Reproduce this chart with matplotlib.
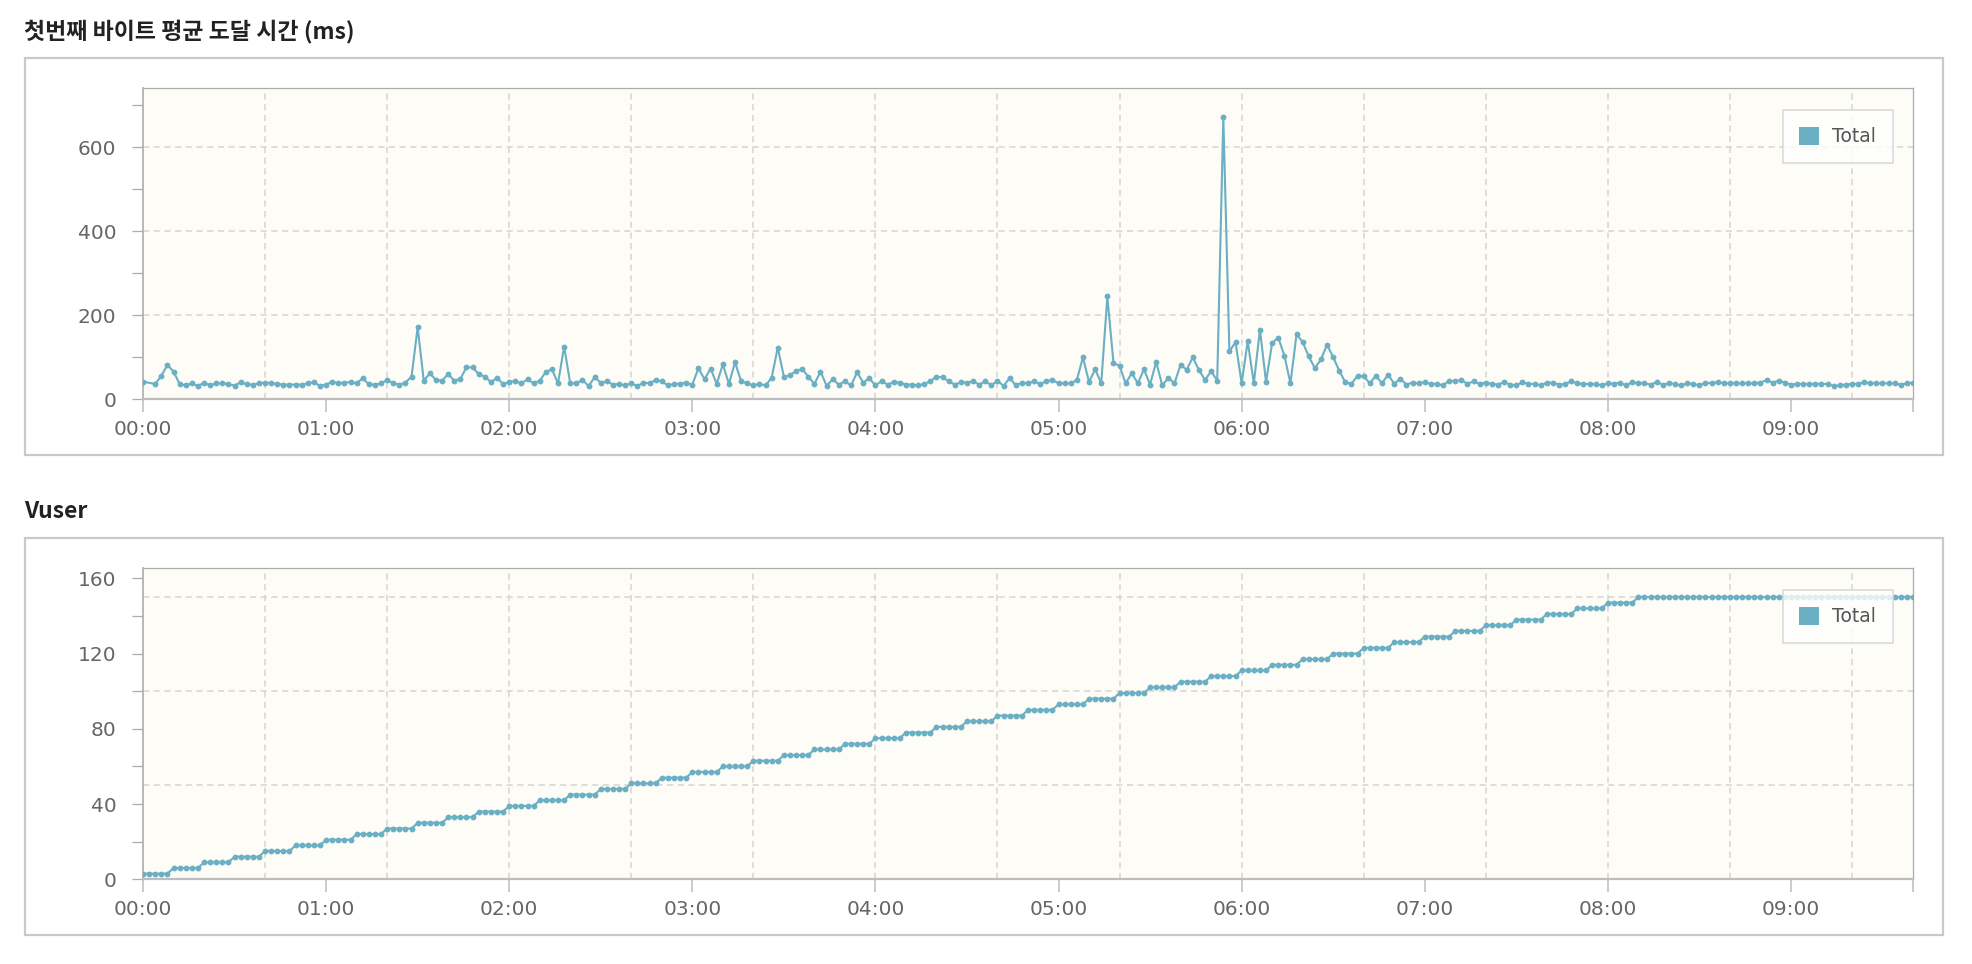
"""Recreate the two-panel load-test chart: first-byte time and Vuser count."""
import matplotlib
matplotlib.use("Agg")
import matplotlib.pyplot as plt
from matplotlib.patches import Patch, Rectangle
from matplotlib.ticker import FixedLocator, FuncFormatter
import numpy as np

# ---- data ----
TITLE_TOP = "첫번째 바이트 평균 도달 시간 (ms)"
TITLE_BOTTOM = "Vuser"
SERIES_NAME = "Total"

# first-byte time samples, minutes since start (sample at 2 min is missing)
RESP_MIN = np.concatenate([[0], np.arange(4, 581, 2)])
RESP_MS = [
    42, 36.5, 55.6, 81.8, 66, 36.5, 33, 38, 31.7, 39.7,
    33, 38, 38, 36.5, 32.5, 40.5, 35.7, 35, 38, 39.7,
    38, 36.5, 35, 35, 35, 35, 38, 41, 31.7, 35,
    42, 38, 39.7, 41, 38, 50, 35.7, 35, 38, 46,
    38, 35, 39.7, 54, 171.5, 44,
    62, 46, 44.5, 60, 44.5, 49, 76, 76, 60, 54,
    41, 51, 36.5, 41, 43.6, 38, 47.6, 38, 44.5, 65,
    71.5, 38, 125.5, 38, 38, 46, 31.7, 52.4, 39.7, 42.8,
    35, 36.5, 33, 38, 31.7, 39.7, 38, 46, 42.8, 33,
    36.5, 36.5, 39.7, 35, 74, 47.6, 73, 36.5, 83.4, 36.5,
    88, 43, 38, 33, 36.5, 33, 51, 123, 54, 57,
    68, 72, 54, 36.5, 66, 32.5, 47.6, 35, 43, 33,
    64, 39.7, 50, 33, 43, 35, 41, 39.7, 35, 35,
    33, 36.5, 43, 54, 52, 43, 35, 41, 39.7, 43,
    35, 43, 33, 44.5, 31.7, 51, 33, 39.7,
    38, 43, 36.5, 43, 46, 38, 38, 38, 46, 100,
    41, 71.5, 38, 244.7, 87, 79.4, 38, 62, 38, 71.5,
    35, 89, 33, 51, 38, 82.6, 70, 100, 70, 46,
    66.7, 44.5, 671, 114, 136, 38, 138, 38, 166, 41,
    134, 147, 104, 38, 155, 136, 102, 74, 95, 130,
    100, 68, 40, 37, 56, 55, 38, 56, 38, 59,
    37, 49, 35,
    39.7, 38, 41, 36.5, 36.5, 33, 44.5, 43, 46, 36.5,
    43, 36.5, 39.7, 36.5, 35, 41, 35, 33, 41, 36.5,
    36.5, 33, 39.7, 39.7, 35, 36.5, 43, 38, 36.5, 36.5,
    36.5, 33, 38, 37,
    39.7, 33, 41, 38, 38, 35, 41, 35, 38, 36.5,
    33, 38, 36.5, 33, 39.7, 38, 41, 38, 38, 38,
    38, 38, 38, 39.7, 46, 39.7, 44.5, 39.7, 35, 36.5,
    36.5, 36.5, 36.5, 36.5, 36.5, 31.7, 33, 35, 36.5, 36.5,
    41, 38, 38, 38, 38, 38, 35, 38, 39.7,
]

# vuser: step levels and number of 2-minute samples spent on each
VUSER_MIN = np.arange(0, 581, 2)
VUSER_LEVELS = [3, 6, 9, 12, 15, 18, 21, 24, 27, 30,
                33, 36, 39, 42, 45, 48, 51, 54, 57, 60,
                63, 66, 69, 72, 75, 78, 81, 84, 87, 90,
                93, 96, 99, 102, 105, 108, 111, 114, 117, 120,
                123, 126, 129, 132, 135, 138, 141, 144, 147, 150]
VUSER_SAMPLES = [5] * 49 + [46]
VUSER = np.repeat(VUSER_LEVELS, VUSER_SAMPLES)

HOUR_TICKS = [0, 60, 120, 180, 240, 300, 360, 420, 480, 540]
HOUR_LABELS = ["00:00", "01:00", "02:00", "03:00", "04:00",
               "05:00", "06:00", "07:00", "08:00", "09:00"]
X_END = 580
X_GRID = [40, 80, 120, 160, 200, 240, 280, 320, 360, 400, 440, 480, 520, 560]

# ---- style ----
W, H = 1972, 964
LINE = "#6aafc3"
BG = "#fdfcf6"
SPINE = "#acacac"
GRID = "#d4d4d4"
TICK_TXT = "#666666"

plt.rcParams["font.family"] = ["DejaVu Sans"]


def frac_rect(left, top, right, bottom):
    return [left / W, 1 - bottom / H, (right - left) / W, (bottom - top) / H]


def panel(fig, box, ax_px, title, title_y, x, y, ymax, yticks, ylabel_every, ygrid):
    # outer white box
    bl, bt, br, bb = box
    fig.patches.append(Rectangle((bl / W, 1 - bb / H), (br - bl) / W, (bb - bt) / H,
                                 transform=fig.transFigure, fill=False,
                                 ec="#c9c9c9", lw=1.6))
    fig.text(24 / W, 1 - title_y / H, title, fontsize=16.5, fontweight="bold",
             color="#222222", va="center", ha="left",
             family=["Noto Sans CJK KR", "DejaVu Sans"])

    ax = fig.add_axes(frac_rect(*ax_px))
    ax.set_facecolor(BG)
    ax.plot(x, y, color=LINE, lw=1.5, marker="o", ms=4.2, mew=0, zorder=3)
    ax.set_xlim(0, X_END)
    ax.set_ylim(0, ymax)

    for s in ax.spines.values():
        s.set_color(SPINE)
        s.set_linewidth(0.9)
    ax.spines["left"].set_linewidth(1.2)
    ax.spines["bottom"].set_linewidth(1.6)
    ax.spines["bottom"].set_color("#bdbdbd")

    # y ticks: marks every step, labels on some; dashed grid on its own values
    ax.yaxis.set_major_locator(FixedLocator(yticks))
    ax.yaxis.set_major_formatter(FuncFormatter(
        lambda v, p: f"{int(v)}" if int(v) % ylabel_every == 0 else ""))
    ax.yaxis.set_minor_locator(FixedLocator(ygrid))
    ax.yaxis.remove_overlapping_locs = False
    ax.tick_params(axis="y", which="major", length=8, width=0.9, color=SPINE,
                   labelsize=14.5, labelcolor=TICK_TXT, pad=11)

    # x ticks: hours plus end mark; dashed grid every 40 minutes
    ax.xaxis.set_major_locator(FixedLocator(HOUR_TICKS + [X_END]))
    ax.xaxis.set_major_formatter(FuncFormatter(
        lambda v, p: HOUR_LABELS[HOUR_TICKS.index(int(v))] if int(v) in HOUR_TICKS else ""))
    ax.xaxis.set_minor_locator(FixedLocator(X_GRID))
    ax.xaxis.remove_overlapping_locs = False
    ax.tick_params(axis="x", which="major", length=9, width=1.1, color="#bdbdbd",
                   labelsize=14.5, labelcolor=TICK_TXT, pad=6)
    ax.tick_params(which="minor", length=0)

    ax.grid(which="minor", color=GRID, lw=1.1, ls=(0, (4, 3)), zorder=1)
    ax.grid(which="major", visible=False)
    ax.set_axisbelow(True)

    # legend
    lx = (1893 - ax_px[0]) / (ax_px[2] - ax_px[0])
    ly = 1 - 22 / (ax_px[3] - ax_px[1])
    leg = ax.legend(handles=[Patch(facecolor=LINE, edgecolor="none", label=SERIES_NAME)],
                    loc="upper right", bbox_to_anchor=(lx, ly), borderaxespad=0,
                    fancybox=False, framealpha=0.8, edgecolor="#d8d8d8",
                    fontsize=13.5, handlelength=1.05, handleheight=1.05,
                    handletextpad=0.7, borderpad=0.9, labelcolor="#555555")
    leg.get_frame().set_linewidth(1.4)
    leg.set_zorder(5)
    return ax


fig = plt.figure(figsize=(W / 100, H / 100), dpi=100)
fig.patch.set_facecolor("white")

panel(fig, (24.5, 57.7, 1942.6, 455), (143, 88.3, 1913, 399.3), TITLE_TOP, 31.7,
      RESP_MIN, RESP_MS, 740, list(range(0, 701, 100)), 200, [200, 400, 600])
panel(fig, (24.5, 537.7, 1942.6, 935.3), (143, 568.3, 1913, 879.3), TITLE_BOTTOM, 511.7,
      VUSER_MIN, VUSER, 165.3, list(range(0, 161, 20)), 40, [50, 100, 150])

fig.savefig("out.png", dpi=100)
